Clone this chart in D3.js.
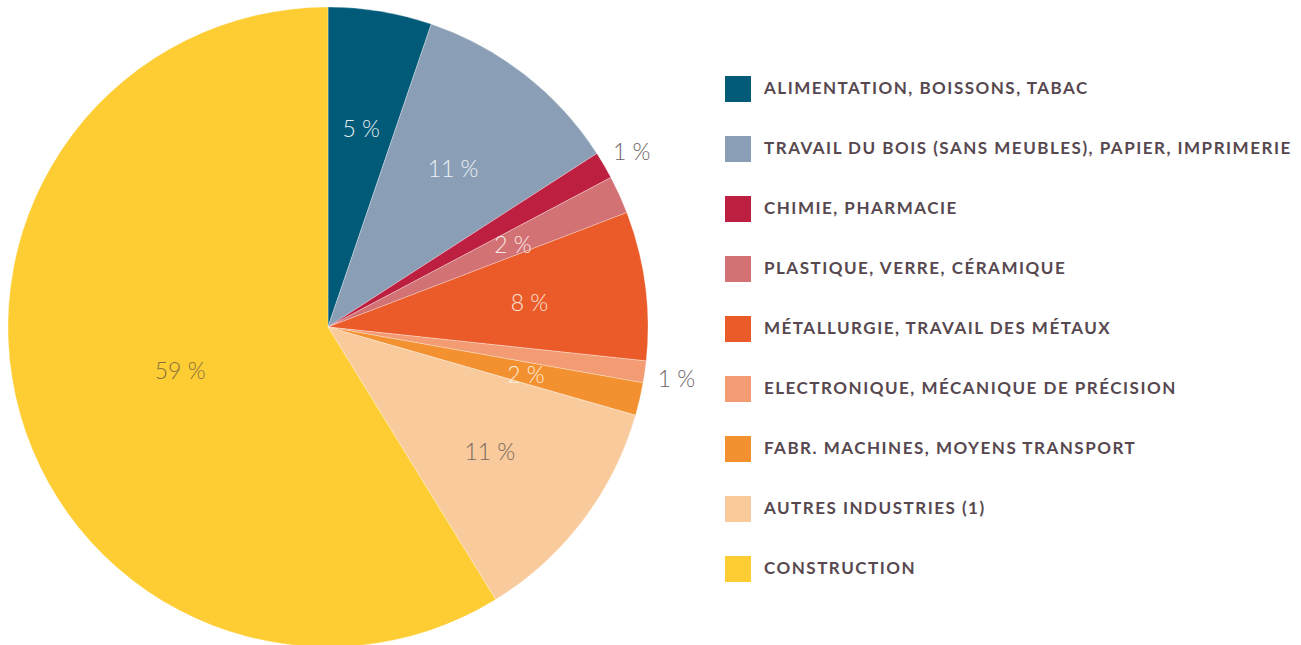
<!DOCTYPE html>
<html>
<head>
<meta charset="utf-8">
<script src="https://cdn.jsdelivr.net/npm/d3@7"></script>
<style>
  body { margin: 0; background: #fff; }
  svg { display: block; }
</style>
</head>
<body>
<div id="chart"></div>
<script>
const categories = [
    "ALIMENTATION, BOISSONS, TABAC",
    "TRAVAIL DU BOIS (SANS MEUBLES), PAPIER, IMPRIMERIE",
    "CHIMIE, PHARMACIE",
    "PLASTIQUE, VERRE, CÉRAMIQUE",
    "MÉTALLURGIE, TRAVAIL DES MÉTAUX",
    "ELECTRONIQUE, MÉCANIQUE DE PRÉCISION",
    "FABR. MACHINES, MOYENS TRANSPORT",
    "AUTRES INDUSTRIES (1)",
    "CONSTRUCTION"
];
const shares = [5.23, 10.65, 1.38, 1.92, 7.51, 1.10, 1.66, 11.77, 58.78];
const labels = ["5 %", "11 %", "1 %", "2 %", "8 %", "1 %", "2 %", "11 %", "59 %"];
const colors = ["#005a78", "#8a9fb5", "#bc1f40", "#d37274", "#eb5b29",
                "#f39b72", "#f39130", "#f9cb9c", "#fecd33"];
const labelColors = ["#e6edf1", "#eef1f5", "#6e6266", "#f7e6e6", "#fbe2d6",
                     "#6e6266", "#fcecd8", "#776662", "#86703e"];

const width = 1301, height = 645;
const cx = 328, cy = 327, radius = 320;

const data = categories.map((c, i) => ({name: c, value: shares[i], label: labels[i], i: i}));

const svg = d3.select("#chart")
    .append("svg")
    .attr("width", width)
    .attr("height", height);

const pie = d3.pie()
    .value(d => d.value)
    .sort(null);

const arc = d3.arc()
    .innerRadius(0)
    .outerRadius(radius);

const arcs = pie(data);

const g = svg.append("g")
    .attr("transform", `translate(${cx}, ${cy})`);

g.selectAll("path")
    .data(arcs)
    .enter()
    .append("path")
    .attr("d", arc)
    .attr("fill", d => colors[d.data.i])
    .attr("stroke", "rgba(255,255,255,0.5)")
    .attr("stroke-width", 0.6);

// small slices get their label outside, the big one sits nearer the centre
function labelRadius(d) {
    if (d.data.value < 1.5) return radius * 1.1;
    if (d.endAngle - d.startAngle > Math.PI) return radius * 0.48;
    return radius * 0.635;
}

g.selectAll("text.pct")
    .data(arcs)
    .enter()
    .append("text")
    .attr("class", "pct")
    .attr("transform", d => {
        const a = (d.startAngle + d.endAngle) / 2;
        const r = labelRadius(d);
        return `translate(${r * Math.sin(a)}, ${-r * Math.cos(a)})`;
    })
    .attr("text-anchor", "middle")
    .attr("dy", "0.45em")
    .attr("font-family", "Lato, 'Open Sans', sans-serif")
    .attr("font-weight", 300)
    .attr("font-size", 23)
    .attr("fill", d => labelColors[d.data.i])
    .text(d => d.data.label);

// legend
const legend = svg.append("g")
    .attr("transform", "translate(725, 76)");

const row = legend.selectAll("g")
    .data(data)
    .enter()
    .append("g")
    .attr("transform", (d, i) => `translate(0, ${i * 60})`);

row.append("rect")
    .attr("width", 26)
    .attr("height", 26)
    .attr("fill", d => colors[d.i]);

row.append("text")
    .attr("x", 39)
    .attr("y", 12)
    .attr("dy", "0.36em")
    .attr("font-family", "Lato, 'Open Sans', sans-serif")
    .attr("font-weight", 700)
    .attr("font-size", 17)
    .attr("letter-spacing", "1.5px")
    .attr("fill", "#574850")
    .text(d => d.name);
</script>
</body>
</html>
